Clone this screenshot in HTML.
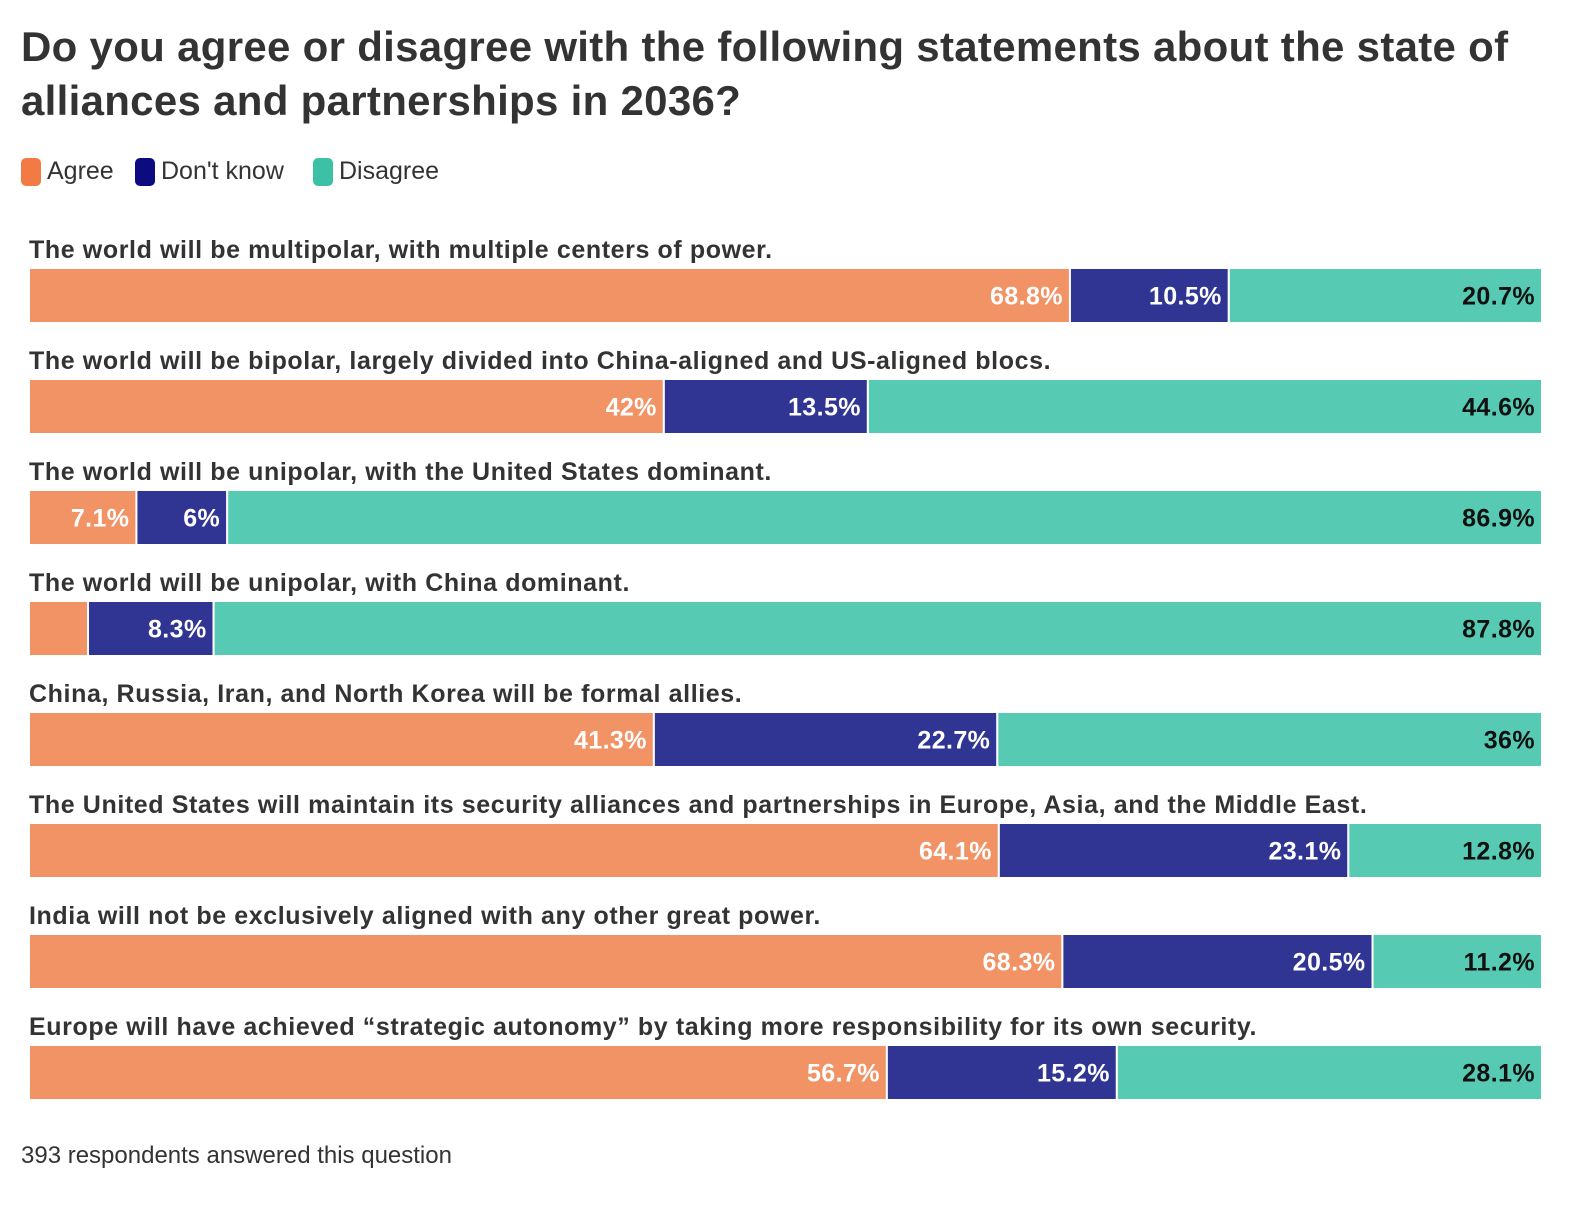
<!DOCTYPE html>
<html><head><meta charset="utf-8"><style>
body{margin:0;width:1588px;height:1208px;background:#fff;font-family:"Liberation Sans",sans-serif;color:#333;overflow:hidden;position:relative}
h1{position:absolute;left:21px;top:20px;margin:0;font-size:42px;line-height:54px;font-weight:bold;color:#333;width:1560px;letter-spacing:0.3px}
.leg{position:absolute;top:157px;font-size:25px;display:flex;align-items:center;gap:6px}
.sw{width:20px;height:28px;border-radius:5px;display:inline-block}
#foot{position:absolute;left:21px;top:1142px;font-size:24px;color:#333}
</style></head><body>
<h1>Do you agree or disagree with the following statements about the state of alliances and partnerships in 2036?</h1>
<div class="leg" style="left:21px"><span class="sw" style="background:#f27a45"></span>Agree</div>
<div class="leg" style="left:135px"><span class="sw" style="background:#0c0c80"></span>Don't know</div>
<div class="leg" style="left:313px"><span class="sw" style="background:#3dc1a6"></span>Disagree</div>
<svg id="chart" width="1588" height="1208" style="position:absolute;left:0;top:0"></svg>
<div id="foot">393 respondents answered this question</div>
<script>
const categories=["The world will be multipolar, with multiple centers of power.","The world will be bipolar, largely divided into China-aligned and US-aligned blocs.","The world will be unipolar, with the United States dominant.","The world will be unipolar, with China dominant.","China, Russia, Iran, and North Korea will be formal allies.","The United States will maintain its security alliances and partnerships in Europe, Asia, and the Middle East.","India will not be exclusively aligned with any other great power.","Europe will have achieved \u201cstrategic autonomy\u201d by taking more responsibility for its own security."];
const agree=[68.8,42,7.1,3.9,41.3,64.1,68.3,56.7];
const dontKnow=[10.5,13.5,6,8.3,22.7,23.1,20.5,15.2];
const disagree=[20.7,44.6,86.9,87.8,36,12.8,11.2,28.1];
const svg=document.getElementById('chart');
const NS='http://www.w3.org/2000/svg';
const x0=29,x1=1542,top0=268,rowH=111,barH=55;
const series=[{v:agree,c:'#f29366',tc:'#fff',n:'agree'},{v:dontKnow,c:'#303593',tc:'#fff',n:'dont-know'},{v:disagree,c:'#56cab3',tc:'#111',n:'disagree'}];
function el(t,a){const e=document.createElementNS(NS,t);for(const k in a)e.setAttribute(k,a[k]);svg.appendChild(e);return e;}
categories.forEach((cat,i)=>{
  const y=top0+i*rowH;
  const total=agree[i]+dontKnow[i]+disagree[i];
  const sx=v=>v/total*(x1-x0);
  const lab=el('text',{x:29,y:y-10,'font-size':25,'font-weight':'bold',fill:'#333','letter-spacing':0.6});
  lab.textContent=cat;
  
  
  let cx=x0;
  series.forEach(s=>{
    const w=sx(s.v[i]);
    const r=el('rect',{x:cx,y:y,width:w,height:barH,fill:s.c,stroke:'#fff','stroke-width':2});
    
    
    if(w>80){
      const t=el('text',{x:cx+w-7,y:y+barH/2+9,'font-size':25,'font-weight':'bold',fill:s.tc,'text-anchor':'end','letter-spacing':0.4});
      t.textContent=s.v[i]+'%';
      
      
    }
    cx+=w;
  });
});
</script>
</body></html>
